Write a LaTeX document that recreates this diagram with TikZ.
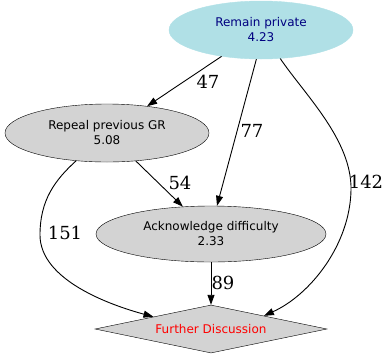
\documentclass[tikz,border=0pt]{standalone}
\usepackage{fontspec}
\setmainfont{DejaVu Serif}
\newfontfamily\nodefont{DejaVu Sans}
\usetikzlibrary{shapes.geometric,arrows.meta}
\definecolor{powderblue}{HTML}{B0E0E6}
\definecolor{lgray}{HTML}{D3D3D3}
\definecolor{navyc}{HTML}{000080}
\tikzset{
  ell/.style={ellipse, draw=black, fill=lgray, inner sep=0pt, align=center,
    font=\nodefont\fontsize{12}{15}\selectfont},
  dia/.style={diamond, draw=black, fill=lgray, inner sep=0pt, align=center,
    font=\nodefont\fontsize{12}{15}\selectfont, text=red},
  lbl/.style={font=\fontsize{18}{20}\selectfont, inner sep=0pt},
  edge/.style={draw=black, line width=0.9pt, -{Triangle[length=10pt,width=7pt]}}
}
\begin{document}
\begin{tikzpicture}[x=1pt,y=-1pt]
\useasboundingbox (0,0) rectangle (391,360);
\node[ell, draw=powderblue, fill=powderblue, text=navyc, minimum width=184pt, minimum height=58pt] (rem) at (261,30) {Remain private\\4.23};
\node[ell, minimum width=204pt, minimum height=58pt] (rep) at (107,133) {Repeal previous GR\\5.08};
\node[ell, minimum width=230pt, minimum height=56pt] (ack) at (211,234) {Acknowledge difficulty\\2.33};
\node[dia, minimum width=232pt, minimum height=48pt, shape aspect=4.83] (fd) at (211,329) {Further Discussion};

\draw[edge] (rem) -- (rep);
\draw[edge] (rem.-99) -- (ack.78);
\draw[edge] (rep) -- (ack);
\draw[edge] (ack) -- (fd);
\coordinate (c1) at (351,190);
\coordinate (c2) at (40,235);
\draw[edge] (rem.-56) .. controls (305,95) and (352,140) .. (c1)
   .. controls (350,245) and (310,295) .. (fd.14);
\draw[edge] (rep.-138) .. controls (55,180) and (40,200) .. (c2)
   .. controls (40,280) and (110,305) .. (fd.168);

\node[lbl] (l47) at (208,82) {47};
\node[lbl] (l77) at (252,131) {77};
\node[lbl] (l142) at (366,182) {142};
\node[lbl] (l54) at (180,183) {54};
\node[lbl] (l151) at (65,233) {151};
\node[lbl] (l89) at (223,283) {89};
\end{tikzpicture}
\end{document}
